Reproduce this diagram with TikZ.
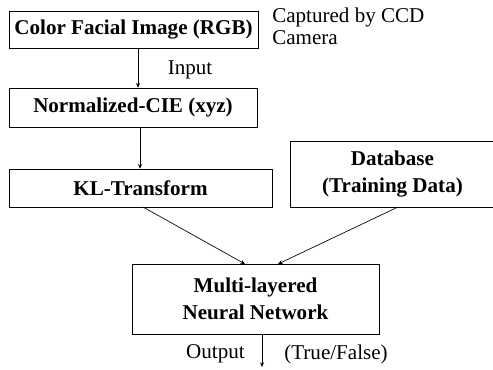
\documentclass[tikz,border=0pt]{standalone}
\usepackage{fontspec}
\setmainfont{Liberation Serif}
\usetikzlibrary{arrows.meta}
\begin{document}
\begin{tikzpicture}[x=0.75pt,y=-0.75pt,
  box/.style={draw,line width=0.5pt,inner sep=0pt,font=\fontsize{15.8}{20}\selectfont\bfseries,align=center},
  lbl/.style={inner sep=0pt,font=\fontsize{15.8}{16}\selectfont,align=left},
  conn/.style={line width=0.5pt,-{Stealth[length=3.5pt,width=3pt]}}]
\useasboundingbox (0,0) rectangle (493,369);
\node[box,minimum width=249*0.75pt,minimum height=37*0.75pt] (img) at (133.5,29.5) {Color Facial Image (RGB)};
\node[box,minimum width=248*0.75pt,minimum height=39*0.75pt] (cie) at (133,107.5) {Normalized-CIE (xyz)};
\node[box,minimum width=263*0.75pt,minimum height=38*0.75pt] (kl) at (140.5,188) {KL-Transform};
\node[box,minimum width=205*0.75pt,minimum height=66*0.75pt] (db) at (392.5,174) {Database\\(Training Data)};
\node[box,minimum width=247*0.75pt,minimum height=70*0.75pt] (nn) at (255.5,299) {Multi-layered\\Neural Network};
\node[lbl,anchor=north west] (cap) at (272,8) {Captured by CCD\\Camera};
\node[lbl] (inp) at (190,70) {Input};
\coordinate (out) at (262,367);
\node[lbl] (outl) at (215.5,354) {Output};
\node[lbl] (tf) at (336,354) {(True/False)};
\draw[conn] (img.south -| 138,0) -- (cie.north -| 138,0);
\draw[conn] (cie.south -| 140,0) -- (kl.north -| 140,0);
\draw[conn] (143,207) -- (245,264);
\draw[conn] (398,207) -- (278,264);
\draw[conn] (nn.south -| out) -- (out);
\end{tikzpicture}
\end{document}
